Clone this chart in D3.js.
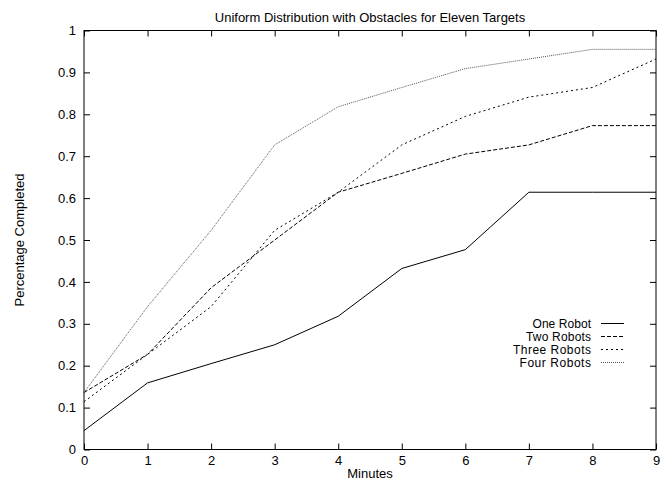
<!DOCTYPE html>
<html>
<head>
<meta charset="utf-8">
<script src="https://cdn.jsdelivr.net/npm/d3@7"></script>
<style>
  body { margin: 0; background: white; }
  svg { display: block; font-family: "Liberation Sans", Arial, sans-serif; }
</style>
</head>
<body>
<div id="chart"></div>
<script>
// data
const minutes = [0, 1, 2, 3, 4, 5, 6, 7, 8, 9];
const oneRobot = [0.045, 0.159, 0.205, 0.25, 0.318, 0.432, 0.477, 0.614, 0.614, 0.614];
const twoRobots = [0.136, 0.227, 0.386, 0.5, 0.614, 0.659, 0.705, 0.727, 0.773, 0.773];
const threeRobots = [0.114, 0.227, 0.341, 0.523, 0.614, 0.727, 0.795, 0.841, 0.864, 0.932];
const fourRobots = [0.136, 0.341, 0.523, 0.727, 0.818, 0.864, 0.909, 0.932, 0.955, 0.955];
const seriesNames = ["One Robot", "Two Robots", "Three Robots", "Four Robots"];
const yTicks = [0, 0.1, 0.2, 0.3, 0.4, 0.5, 0.6, 0.7, 0.8, 0.9, 1];

const dashes = ["none", "4,2", "2,3", "1,1"];
const colors = ["#000", "#000", "#000", "#555"];
const fontSize = 13;

const width = 672, height = 482;
const margin = {top: 30.5, right: 16, bottom: 32.5, left: 84};

const svg = d3.select("#chart").append("svg")
    .attr("width", width)
    .attr("height", height);

const x = d3.scaleLinear().domain([0, 9]).range([margin.left, width - margin.right]);
const y = d3.scaleLinear().domain([0, 1]).range([height - margin.bottom, margin.top]);

// ticks on all four sides (inward, gnuplot style)
const tickLen = 6;
const fmt = d => d3.format("")(+d.toFixed(1));

svg.append("g")
    .attr("transform", `translate(0,${y(0)})`)
    .call(d3.axisBottom(x).tickValues(minutes).tickSizeInner(-tickLen).tickSizeOuter(0).tickPadding(6).tickFormat(d3.format("d")));
svg.append("g")
    .attr("transform", `translate(0,${y(1)})`)
    .call(d3.axisTop(x).tickValues(minutes).tickSizeInner(-tickLen).tickSizeOuter(0).tickFormat(""));
svg.append("g")
    .attr("transform", `translate(${x(0)},0)`)
    .call(d3.axisLeft(y).tickValues(yTicks).tickSizeInner(-tickLen).tickSizeOuter(0).tickPadding(8).tickFormat(fmt));
svg.append("g")
    .attr("transform", `translate(${x(9)},0)`)
    .call(d3.axisRight(y).tickValues(yTicks).tickSizeInner(-tickLen).tickSizeOuter(0).tickFormat(""));

svg.selectAll(".tick text")
    .attr("font-size", fontSize)
    .attr("font-family", "Liberation Sans, Arial, sans-serif")
    .attr("fill", "#000");
svg.selectAll(".domain").remove();

// frame
svg.append("rect")
    .attr("x", x(0)).attr("y", y(1))
    .attr("width", x(9) - x(0)).attr("height", y(0) - y(1))
    .attr("fill", "none").attr("stroke", "#000").attr("stroke-width", 1);

// lines
const allSeries = [oneRobot, twoRobots, threeRobots, fourRobots];
const line = d3.line()
    .x((d, i) => x(minutes[i]))
    .y(d => y(d));

svg.append("g").selectAll("path")
    .data(allSeries)
    .enter()
    .append("path")
    .attr("d", d => line(d))
    .attr("fill", "none")
    .attr("stroke", (d, i) => colors[i])
    .attr("stroke-width", 1)
    .attr("stroke-dasharray", (d, i) => dashes[i]);

// legend
const legend = svg.append("g").selectAll("g")
    .data(seriesNames)
    .enter()
    .append("g")
    .attr("transform", (d, i) => `translate(0,${323.5 + i * 13})`);

legend.append("text")
    .attr("x", 591)
    .attr("dy", "0.35em")
    .attr("text-anchor", "end")
    .attr("font-size", 12)
    .attr("textLength", d => d.length * 6.5)
    .text(d => d);

legend.append("line")
    .attr("x1", 601).attr("x2", 624)
    .attr("stroke", (d, i) => colors[i])
    .attr("stroke-dasharray", (d, i) => dashes[i]);

// titles
svg.append("text")
    .attr("x", (x(0) + x(9)) / 2)
    .attr("y", 21.5)
    .attr("text-anchor", "middle")
    .attr("font-size", fontSize)
    .text("Uniform Distribution with Obstacles for Eleven Targets");

svg.append("text")
    .attr("x", (x(0) + x(9)) / 2)
    .attr("y", 478)
    .attr("text-anchor", "middle")
    .attr("font-size", fontSize)
    .text("Minutes");

svg.append("text")
    .attr("transform", `translate(24,${(y(0) + y(1)) / 2}) rotate(-90)`)
    .attr("text-anchor", "middle")
    .attr("font-size", fontSize)
    .text("Percentage Completed");
</script>
</body>
</html>
